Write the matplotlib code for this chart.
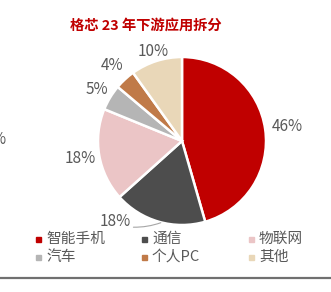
import numpy as np
import matplotlib.pyplot as plt
import matplotlib.patches as mpatches

plt.rcParams['font.family'] = ['Noto Sans CJK SC', 'DejaVu Sans']

title = '格芯 23 年下游应用拆分'
categories = ['智能手机', '通信', '物联网', '汽车', '个人PC', '其他']
shares = [46, 18, 18, 5, 4, 10]
colors = ['#C00000', '#4D4D4D', '#EBC5C6', '#B5B5B5', '#C07A48', '#E9D7B8']

W, H = 331, 292
fig = plt.figure(figsize=(W / 100, H / 100), dpi=100)
ax = fig.add_axes([0, 0, 1, 1])

cx, cy, r = 182, H - 141, 84
wedges, _ = ax.pie(shares, colors=colors, startangle=90, counterclock=False,
                   center=(cx, cy), radius=r, frame=True,
                   wedgeprops=dict(edgecolor='white', linewidth=1.8))
ax.set_xlim(0, W)
ax.set_ylim(0, H)
ax.set_aspect('equal')
ax.axis('off')

# label distance per slice (fraction of radius)
dist = [1.27, 1.0, 1.23, 1.18, 1.22, 1.12]
for i, w in enumerate(wedges):
    ang = np.deg2rad((w.theta1 + w.theta2) / 2)
    lab = '%d%%' % shares[i]
    if i == 1:
        # dark slice label pulled out with leader line
        ex, ey = cx + r * np.cos(ang) + 2, cy + r * np.sin(ang) - 1
        ax.annotate(lab, xy=(ex, ey), xytext=(115, H - 222), ha='center', va='center',
                    fontsize=11, color='#595959',
                    arrowprops=dict(arrowstyle='-', color='#A6A6A6', lw=0.8,
                                    shrinkA=0, shrinkB=0, relpos=(1.0, 0.2),
                                    connectionstyle='arc3,rad=0.1'))
        continue
    tx = cx + dist[i] * r * np.cos(ang)
    ty = cy + dist[i] * r * np.sin(ang)
    ax.text(tx, ty, lab, ha='center', va='center', fontsize=11, color='#595959')

ax.text(146, H - 26, title, ha='center', va='center', fontsize=10.3,
        fontweight='bold', color='#C00000')

# cut-off label from neighbouring chart
ax.text(5, H - 140, '%', ha='right', va='center', fontsize=11, color='#595959')

# legend
col_x = [38, 144, 251]
row_y = [H - 239, H - 257]
for i, (c, col) in enumerate(zip(categories, colors)):
    x = col_x[i % 3]
    y = row_y[i // 3]
    ax.add_patch(mpatches.Rectangle((x - 2.5, y - 2.5), 5, 5, color=col))
    ax.text(x + 8, y, c, ha='left', va='center', fontsize=10.6, color='#595959')

ax.plot([0, W], [H - 277.5, H - 277.5], color='#707070', lw=1.6, solid_capstyle='butt')

fig.savefig('out.png', dpi=100)
